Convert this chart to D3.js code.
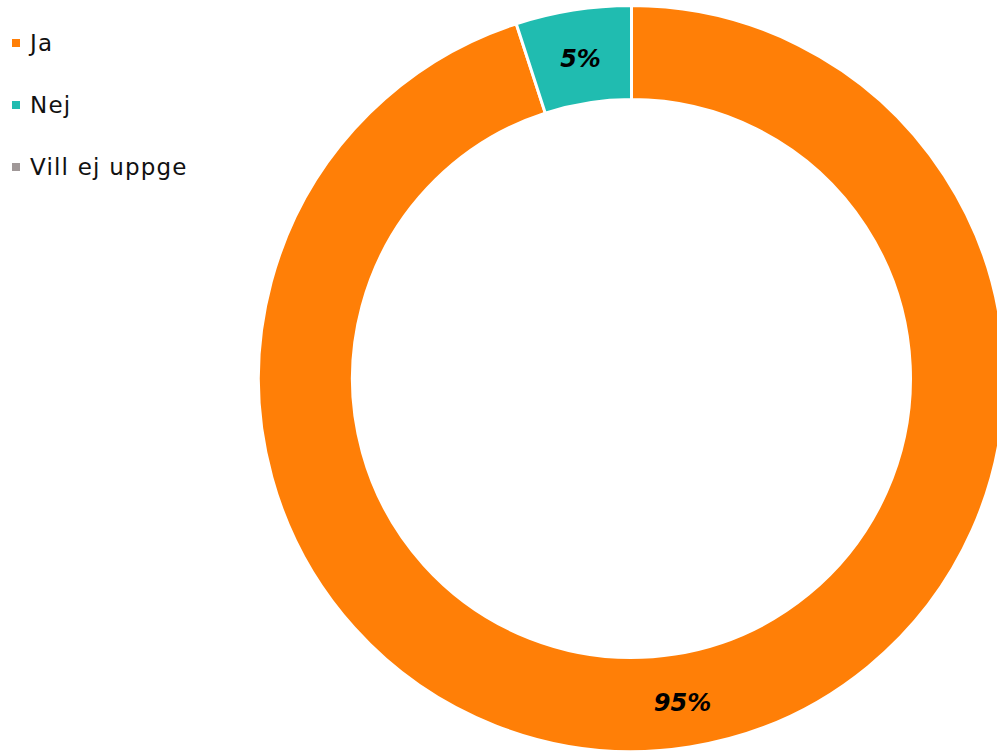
<!DOCTYPE html>
<html>
<head>
<meta charset="utf-8">
<script src="https://cdn.jsdelivr.net/npm/d3@7"></script>
<style>
  html, body { margin: 0; padding: 0; background: #fff; }
</style>
</head>
<body>
<div id="chart"></div>
<script>
// Datos del gráfico
const categories = ["Ja", "Nej", "Vill ej uppge"];
const values = [95, 5, 0];
const colors = ["#ff7f07", "#20bcb0", "#a09898"];

const width = 997;
const height = 751;
const cx = 631.5;
const cy = 378.5;
const outerRadius = 373;
const innerRadius = 279;

const svg = d3.select("#chart")
    .append("svg")
    .attr("width", width)
    .attr("height", height)
    .attr("viewBox", [0, 0, width, height]);

const color = d3.scaleOrdinal()
    .domain(categories)
    .range(colors);

const data = categories.map((c, i) => ({ label: c, value: values[i] }));

const pie = d3.pie()
    .sort(null)
    .value(d => d.value);

const arc = d3.arc()
    .innerRadius(innerRadius)
    .outerRadius(outerRadius);

const arcs = pie(data).filter(d => d.data.value > 0);

const g = svg.append("g")
    .attr("transform", `translate(${cx},${cy})`);

g.selectAll("path")
    .data(arcs)
    .join("path")
    .attr("d", arc)
    .attr("fill", d => color(d.data.label))
    .attr("stroke", "#fff")
    .attr("stroke-width", 3);

// Etiquetas de porcentaje
g.selectAll("text")
    .data(arcs)
    .join("text")
    .attr("transform", d => `translate(${arc.centroid(d)})`)
    .attr("text-anchor", "middle")
    .attr("dy", "0.45em")
    .style("font-family", "'DejaVu Sans', sans-serif")
    .style("font-size", "24px")
    .style("font-weight", "bold")
    .style("font-style", "italic")
    .style("fill", "#000")
    .text(d => d.data.value + "%");

// Leyenda
const legend = svg.append("g")
    .selectAll("g")
    .data(categories)
    .join("g")
    .attr("transform", (d, i) => `translate(12,${43 + i * 62})`);

legend.append("rect")
    .attr("x", 0)
    .attr("y", -4)
    .attr("width", 8)
    .attr("height", 8)
    .attr("fill", d => color(d));

legend.append("text")
    .attr("x", 18)
    .attr("dy", "0.36em")
    .style("font-family", "'DejaVu Sans', sans-serif")
    .style("font-size", "23px")
    .style("letter-spacing", "1.2px")
    .style("fill", "#111")
    .text(d => d);
</script>
</body>
</html>
